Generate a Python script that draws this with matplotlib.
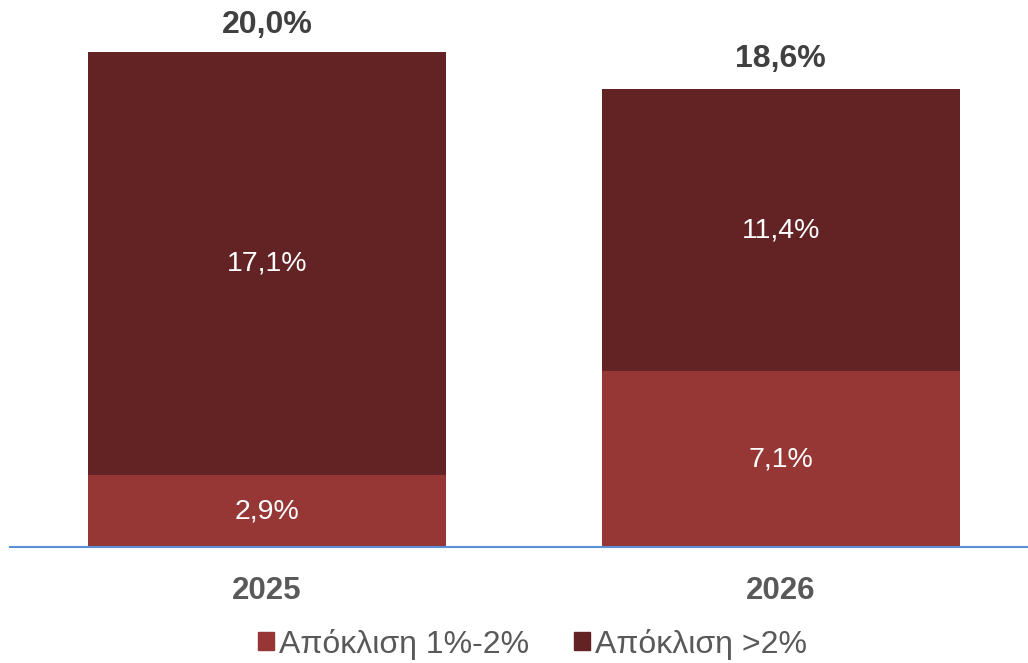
import matplotlib
matplotlib.use("Agg")
import matplotlib.pyplot as plt
from matplotlib.patches import Patch

plt.rcParams['font.family'] = ['Liberation Sans', 'DejaVu Sans']

years = ['2025', '2026']
dev_1_2 = [2.9, 7.1]
dev_over_2 = [17.1, 11.4]
totals = [20.0, 18.6]
series_names = ['Απόκλιση 1%-2%', 'Απόκλιση >2%']

c_low = '#963735'
c_high = '#632325'


def fmt(v):
    return ('%.1f%%' % v).replace('.', ',')


fig = plt.figure(figsize=(10.28, 6.63), dpi=100)
ax = fig.add_axes([10 / 1028, 116 / 663, 1018 / 1028, 537 / 663])

x = list(range(len(years)))
w = 0.697
ax.bar(x, dev_1_2, w, color=c_low)
ax.bar(x, dev_over_2, w, bottom=dev_1_2, color=c_high)

for i in x:
    ax.text(i, dev_1_2[i] / 2, fmt(dev_1_2[i]), ha='center', va='center',
            color='white', fontsize=20.5)
    ax.text(i, dev_1_2[i] + dev_over_2[i] / 2, fmt(dev_over_2[i]),
            ha='center', va='center', color='white', fontsize=20.5)
    ax.text(i, totals[i] + 0.5, fmt(totals[i]), ha='center', va='bottom',
            color='#404040', fontsize=23, fontweight='bold')

ax.set_xlim(-0.5, 1.4815)
ax.set_ylim(0, 537 / 24.75)
ax.set_xticks(x)
ax.set_xticklabels(years, fontsize=22.5, fontweight='bold', color='#595959')
ax.tick_params(axis='x', length=0, pad=21)
ax.set_yticks([])
for s in ['top', 'right', 'left']:
    ax.spines[s].set_visible(False)
ax.spines['bottom'].set_color('#5b8fd6')
ax.spines['bottom'].set_linewidth(1.5)

handles = [Patch(color=c_low), Patch(color=c_high)]
leg = fig.legend(handles, series_names, loc='center', ncol=2,
                 bbox_to_anchor=(0.518, 1 - 644 / 663), frameon=False,
                 fontsize=23, handlelength=0.5, handleheight=0.5,
                 handletextpad=0.15, columnspacing=1.4)
for t in leg.get_texts():
    t.set_color('#595959')

fig.savefig('out.png', dpi=100)
